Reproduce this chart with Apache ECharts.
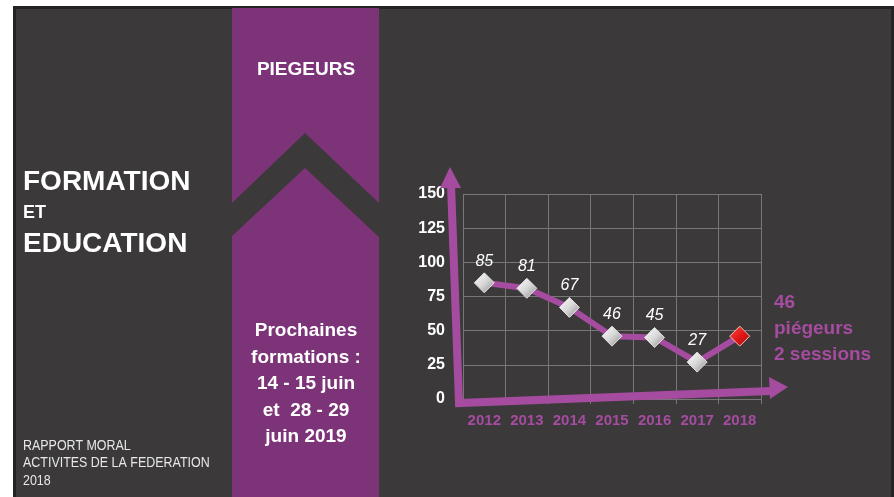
<!DOCTYPE html>
<html>
<head>
<meta charset="utf-8">
<script src="https://cdn.jsdelivr.net/npm/echarts@6/dist/echarts.min.js"></script>
<style>
  html, body { margin: 0; padding: 0; background: #ffffff; }
  #chart { width: 894px; height: 497px; }
</style>
</head>
<body>
<div id="chart"></div>
<script>
// données
const years = ["2012", "2013", "2014", "2015", "2016", "2017", "2018"];
const piegeurs = [85, 81, 67, 46, 45, 27, 46];
const yTicks = [0, 25, 50, 75, 100, 125, 150];

const purple = "#a54ca0";
const bg = "#3b3939";
const gridColor = "#777777";
const sans = "'Liberation Sans', Arial, sans-serif";

const silver = {
  type: "linear", x: 0, y: 0, x2: 1, y2: 1,
  colorStops: [
    { offset: 0, color: "#ffffff" },
    { offset: 0.5, color: "#d8d8d8" },
    { offset: 1, color: "#8a8a8a" },
  ],
};
const red = {
  type: "linear", x: 0, y: 0, x2: 1, y2: 1,
  colorStops: [
    { offset: 0, color: "#ff4a4a" },
    { offset: 0.5, color: "#e01818" },
    { offset: 1, color: "#a80808" },
  ],
};

const seriesData = piegeurs.map((v, i) => {
  if (i === piegeurs.length - 1) {
    return {
      value: v,
      label: { show: false },
      itemStyle: { color: red, borderColor: "#e8c8b8", borderWidth: 1 },
    };
  }
  return v;
});

const chart = echarts.init(document.getElementById("chart"));

const option = {
  animation: false,
  backgroundColor: "#ffffff",
  grid: { left: 463, right: 133, top: 194, bottom: 98, containLabel: false },
  xAxis: {
    type: "category",
    data: years,
    boundaryGap: true,
    axisLine: { show: true, lineStyle: { color: gridColor, width: 1 } },
    axisTick: { show: true, interval: 0, length: 5, lineStyle: { color: gridColor } },
    splitLine: { show: true, interval: 0, lineStyle: { color: gridColor, width: 1 } },
    axisLabel: {
      interval: 0,
      color: purple,
      fontWeight: "bold",
      fontSize: 15,
      fontFamily: sans,
      margin: 14,
    },
  },
  yAxis: {
    type: "value",
    min: yTicks[0],
    max: yTicks[yTicks.length - 1],
    interval: 25,
    axisLine: { show: false },
    axisTick: { show: false },
    splitLine: { show: true, lineStyle: { color: gridColor, width: 1 } },
    axisLabel: {
      color: "#ffffff",
      fontWeight: "bold",
      fontSize: 16,
      fontFamily: sans,
      margin: 18,
    },
  },
  series: [
    {
      type: "line",
      data: seriesData,
      z: 5,
      symbol: "diamond",
      symbolSize: 20,
      lineStyle: { color: purple, width: 6 },
      itemStyle: { color: silver, borderColor: "#e0e0e0", borderWidth: 1 },
      label: {
        show: true,
        position: "top",
        distance: 3,
        color: "#ffffff",
        fontStyle: "italic",
        fontSize: 16,
        fontFamily: sans,
      },
    },
  ],
  graphic: [
    // fond de la diapositive
    { type: "rect", z: -10, shape: { x: 13, y: 6, width: 881, height: 491 }, style: { fill: "#232323" } },
    { type: "rect", z: -9, shape: { x: 16, y: 9, width: 875, height: 488 }, style: { fill: bg } },
    { type: "rect", z: -8, shape: { x: 232, y: 8, width: 147, height: 489 }, style: { fill: "#7d3378" } },
    {
      type: "polygon", z: -7,
      shape: { points: [[232, 203], [305, 133], [379, 203], [379, 237], [305, 168], [232, 236]] },
      style: { fill: bg },
    },
    // flèches
    {
      type: "polyline", z: 20,
      shape: { points: [[451, 184], [459, 403], [771, 391]] },
      style: { stroke: purple, lineWidth: 8, lineJoin: "miter", fill: null },
    },
    {
      type: "polygon", z: 20,
      shape: { points: [[450, 167], [461, 188], [440, 188]] },
      style: { fill: purple },
    },
    {
      type: "polygon", z: 20,
      shape: { points: [[788, 387], [769, 377], [770, 399]] },
      style: { fill: purple },
    },
    // textes
    {
      type: "text", z: 20,
      style: { text: "PIEGEURS", x: 306, y: 70, fill: "#ffffff", font: "bold 19px " + sans, textAlign: "center", textVerticalAlign: "middle" },
    },
    {
      type: "text", z: 20,
      style: { text: "FORMATION", x: 23, y: 182, fill: "#ffffff", font: "bold 28px " + sans, textAlign: "left", textVerticalAlign: "middle" },
    },
    {
      type: "text", z: 20,
      style: { text: "ET", x: 23, y: 213, fill: "#ffffff", font: "bold 18px " + sans, textAlign: "left", textVerticalAlign: "middle" },
    },
    {
      type: "text", z: 20,
      style: { text: "EDUCATION", x: 23, y: 244, fill: "#ffffff", font: "bold 28px " + sans, textAlign: "left", textVerticalAlign: "middle" },
    },
    {
      type: "text", z: 20,
      style: {
        text: "Prochaines\nformations :\n14 - 15 juin\net  28 - 29\njuin 2019",
        x: 306, y: 318, fill: "#ffffff", font: "bold 19px " + sans,
        lineHeight: 26.5, textAlign: "center", textVerticalAlign: "top",
      },
    },
    {
      type: "text", z: 20,
      x: 23, y: 437, scaleX: 0.89,
      style: {
        text: "RAPPORT MORAL\nACTIVITES DE LA FEDERATION\n2018",
        x: 0, y: 0, fill: "#e8e8e8", font: "14px " + sans,
        lineHeight: 17.5, textAlign: "left", textVerticalAlign: "top",
      },
    },
    {
      type: "text", z: 20,
      style: {
        text: "46\npiégeurs\n2 sessions",
        x: 774, y: 290, fill: purple, font: "bold 19px " + sans,
        lineHeight: 26, textAlign: "left", textVerticalAlign: "top",
      },
    },
  ],
};

chart.setOption(option);
</script>
</body>
</html>
